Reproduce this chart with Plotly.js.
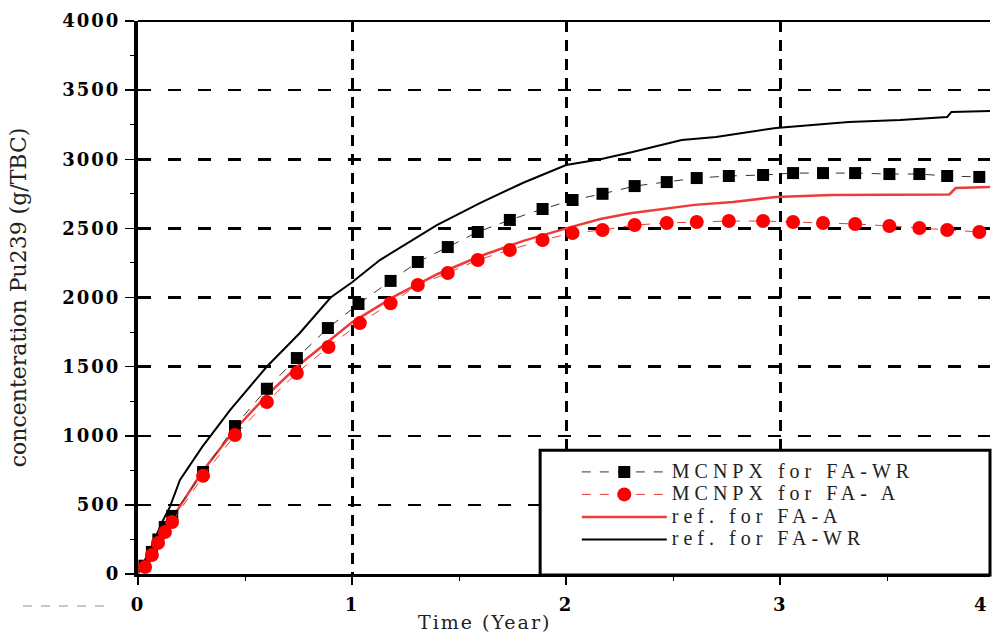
<!DOCTYPE html>
<html>
<head>
<meta charset="utf-8">
<script src="https://cdn.plot.ly/plotly-3.0.1.min.js"></script>
<style>
  html, body { margin: 0; padding: 0; background: #fff; }
  #chart { width: 992px; height: 636px; }
  .legendtext { font-size: 20px !important; letter-spacing: 5px; }
  .ytick text, .xtick text { letter-spacing: 2px; }
  .annotation-text { letter-spacing: 2px; }
</style>
</head>
<body>
<div id="chart"></div>
<script>
// MCNPX for FA-WR (black squares)
const mcnpxWR_x = [0.03, 0.065, 0.095, 0.125, 0.16, 0.304, 0.453, 0.602, 0.742, 0.887, 1.03, 1.18, 1.307, 1.447, 1.587, 1.737, 1.89, 2.03, 2.17, 2.32, 2.47, 2.61, 2.76, 2.92, 3.06, 3.20, 3.35, 3.51, 3.65, 3.78, 3.93];
const mcnpxWR_y = [60, 160, 250, 340, 420, 738, 1070, 1340, 1562, 1779, 1953, 2120, 2257, 2365, 2474, 2561, 2640, 2705, 2750, 2806, 2835, 2864, 2879, 2886, 2900, 2900, 2900, 2893, 2893, 2879, 2872];

// MCNPX for FA-A (red circles)
const mcnpxA_x = [0.033, 0.065, 0.093, 0.126, 0.159, 0.304, 0.453, 0.602, 0.742, 0.89, 1.036, 1.18, 1.307, 1.447, 1.587, 1.737, 1.89, 2.03, 2.17, 2.32, 2.47, 2.61, 2.76, 2.92, 3.06, 3.20, 3.35, 3.51, 3.65, 3.78, 3.93];
const mcnpxA_y = [51, 137, 224, 304, 376, 710, 1005, 1244, 1454, 1642, 1815, 1958, 2090, 2177, 2271, 2344, 2416, 2467, 2488, 2524, 2539, 2546, 2553, 2553, 2546, 2539, 2532, 2517, 2503, 2488, 2474];

// ref. for FA-A (red line)
const refA_x = [0, 0.05, 0.1, 0.15, 0.2, 0.3, 0.45, 0.6, 0.75, 0.9, 1.0, 1.2, 1.4, 1.6, 1.8, 2.0, 2.16, 2.3, 2.47, 2.6, 2.78, 2.98, 3.24, 3.5, 3.79, 3.82, 3.98];
const refA_y = [0, 130, 250, 380, 500, 740, 1040, 1290, 1510, 1700, 1820, 2010, 2170, 2300, 2410, 2500, 2568, 2610, 2647, 2670, 2691, 2727, 2741, 2741, 2745, 2792, 2800];

// ref. for FA-WR (black line)
const refWR_x = [0, 0.056, 0.117, 0.149, 0.196, 0.30, 0.43, 0.60, 0.756, 0.9, 1.0, 1.13, 1.396, 1.597, 1.797, 2.0, 2.16, 2.31, 2.54, 2.70, 2.98, 3.32, 3.56, 3.78, 3.80, 3.98];
const refWR_y = [0, 174, 390, 485, 680, 919, 1186, 1497, 1743, 2000, 2110, 2271, 2524, 2683, 2828, 2958, 3000, 3052, 3139, 3161, 3226, 3270, 3284, 3306, 3342, 3349];

const seriesNames = ["MCNPX for FA-WR", "MCNPX for FA- A", "ref. for FA-A", "ref. for FA-WR"];
const yTicks = [0, 500, 1000, 1500, 2000, 2500, 3000, 3500, 4000];
const xTicks = [0, 1, 2, 3];
const xCutLabel = "4";

const traces = [
  {
    x: refWR_x, y: refWR_y, name: seriesNames[3], mode: 'lines',
    line: { color: '#000000', width: 2 }, legendrank: 4
  },
  {
    x: refA_x, y: refA_y, name: seriesNames[2], mode: 'lines',
    line: { color: '#f03a3a', width: 2.5 }, legendrank: 3
  },
  {
    x: mcnpxWR_x, y: mcnpxWR_y, name: seriesNames[0], mode: 'lines+markers',
    line: { color: '#333333', width: 1, dash: 'dash' },
    marker: { symbol: 'square', size: 12, color: '#000000' }, legendrank: 1
  },
  {
    x: mcnpxA_x, y: mcnpxA_y, name: seriesNames[1], mode: 'lines+markers',
    line: { color: '#e04040', width: 1, dash: 'dash' },
    marker: { symbol: 'circle', size: 14, color: '#ff0000' }, legendrank: 2
  }
];

const tickFont = { family: 'DejaVu Serif', size: 18, color: '#000', weight: 'bold' };

const layout = {
  width: 992, height: 636,
  margin: { l: 138, r: 2, t: 21, b: 62, pad: 0 },
  paper_bgcolor: '#ffffff', plot_bgcolor: '#ffffff',
  showlegend: true,
  legend: {
    x: 0.515, xanchor: 'left', y: 0.214, yanchor: 'top',
    bgcolor: 'rgba(0,0,0,0)', borderwidth: 0,
    font: { family: 'Liberation Serif', size: 15, color: '#222' },
    itemwidth: 85, traceorder: 'normal'
  },
  xaxis: {
    range: [0, 3.98], tickvals: xTicks, ticktext: xTicks.map(String),
    showline: true, linecolor: '#000', linewidth: 3,
    ticks: 'outside', ticklen: 8, tickwidth: 2, tickcolor: '#000',
    minor: { dtick: 0.5, ticks: 'outside', ticklen: 4, tickwidth: 1, tickcolor: '#000', showgrid: false },
    showgrid: true, gridcolor: '#000', gridwidth: 3, griddash: '11px,8px',
    zeroline: false, tickfont: tickFont, ticklabelstandoff: 4
  },
  yaxis: {
    range: [0, 4000], tickvals: yTicks, ticktext: yTicks.map(String),
    showline: true, linecolor: '#000', linewidth: 4,
    ticks: 'outside', ticklen: 9, tickwidth: 1.5, tickcolor: '#000',
    minor: { dtick: 250, ticks: 'outside', ticklen: 4, tickwidth: 1, tickcolor: '#000', showgrid: false },
    showgrid: true, gridcolor: '#000', gridwidth: 2.5, griddash: '13px,17px',
    zeroline: false, tickfont: tickFont, ticklabelstandoff: 1,
    title: { text: 'concenteration Pu239 (g/TBC)', font: { family: 'DejaVu Serif', size: 22, color: '#222' }, standoff: 31 }
  },
  shapes: [
    { type: 'line', xref: 'paper', yref: 'paper', x0: 0, x1: 1, y0: 1, y1: 1, line: { color: '#000', width: 2 } },
    { type: 'rect', xref: 'paper', yref: 'paper', x0: 0.472, x1: 1.0, y0: -0.002, y1: 0.224,
      fillcolor: '#ffffff', line: { color: '#000', width: 3 }, layer: 'above' },
    { type: 'line', xref: 'paper', yref: 'paper', x0: -0.135, x1: -0.035, y0: -0.058, y1: -0.058,
      line: { color: '#c8c8c8', width: 2, dash: 'dash' } }
  ],
  annotations: [
    { text: 'Time (Year)', xref: 'paper', yref: 'paper', x: 0.407, y: -0.087,
      xanchor: 'center', yanchor: 'middle', showarrow: false,
      font: { family: 'DejaVu Serif', size: 19, color: '#222' } },
    { text: xCutLabel, xref: 'paper', yref: 'paper', x: 1.0, y: -0.055, xshift: 1,
      xanchor: 'right', yanchor: 'middle', showarrow: false,
      font: tickFont }
  ]
};

Plotly.newPlot('chart', traces, layout, { displayModeBar: false, staticPlot: true });
</script>
</body>
</html>
